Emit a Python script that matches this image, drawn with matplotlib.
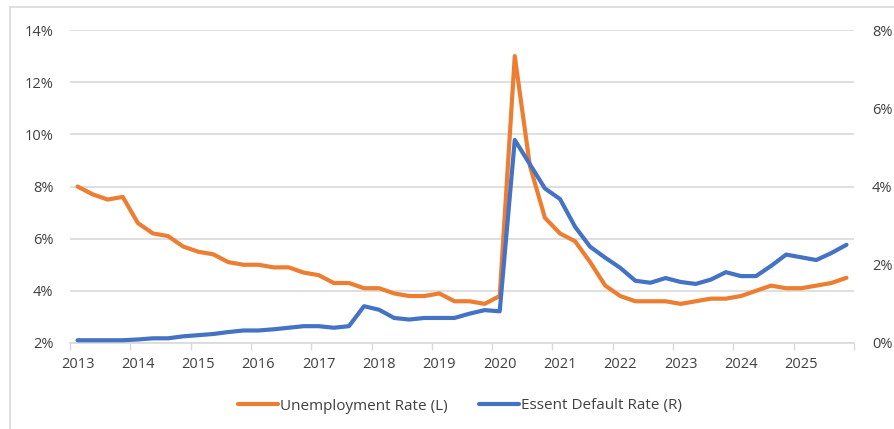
import matplotlib
matplotlib.use("Agg")
import matplotlib.pyplot as plt
from matplotlib.patches import Rectangle
import numpy as np

years = [str(y) for y in range(2013, 2026)]
unemployment = [8.0, 7.7, 7.5, 7.6, 6.6, 6.2, 6.1, 5.7, 5.5, 5.4, 5.1, 5.0,
                5.0, 4.9, 4.9, 4.7, 4.6, 4.3, 4.3, 4.1, 4.1, 3.9, 3.8, 3.8,
                3.9, 3.6, 3.6, 3.5, 3.8, 13.0, 8.8, 6.8, 6.2, 5.9, 5.1, 4.2,
                3.8, 3.6, 3.6, 3.6, 3.5, 3.6, 3.7, 3.7, 3.8, 4.0, 4.2, 4.1,
                4.1, 4.2, 4.3, 4.5]
default_rate = [0.07, 0.07, 0.07, 0.07, 0.09, 0.12, 0.12, 0.17, 0.20, 0.23, 0.28, 0.32,
                0.32, 0.35, 0.39, 0.43, 0.43, 0.39, 0.43, 0.94, 0.85, 0.64, 0.60, 0.64,
                0.64, 0.64, 0.75, 0.84, 0.81, 5.19, 4.57, 3.95, 3.68, 2.97, 2.46, 2.18,
                1.92, 1.59, 1.54, 1.66, 1.56, 1.51, 1.62, 1.81, 1.71, 1.71, 1.97, 2.26,
                2.19, 2.12, 2.30, 2.51]

text_color = "#404040"
plt.rcParams['font.family'] = ['Open Sans', 'DejaVu Sans']

fig = plt.figure(figsize=(8.95, 4.29), dpi=100)
# chart border
fig.patches.append(Rectangle((10/895, -0.05), 1.0, (429-7)/429 + 0.05,
                             transform=fig.transFigure, fill=False,
                             edgecolor="#d9d9d9", linewidth=1.2))

ax = fig.add_axes([70/895, 1-343/429, (854-70)/895, (343-30)/429])
ax2 = ax.twinx()

x = np.arange(len(unemployment))
l1, = ax.plot(x, unemployment, color="#ED7D31", lw=3.0, solid_joinstyle="round",
              solid_capstyle="round", label="Unemployment Rate (L)", zorder=3)
l2, = ax2.plot(x, default_rate, color="#4472C4", lw=3.0, solid_joinstyle="round",
               solid_capstyle="round", label="Essent Default Rate (R)", zorder=3)

ax.set_xlim(-0.5, len(x) - 0.5)
ax.set_ylim(2, 14)
ax2.set_ylim(0, 8)
ax.set_yticks(np.arange(2, 15, 2))
ax2.set_yticks(np.arange(0, 9, 2))
ax.set_yticklabels([f"{v}%" for v in range(2, 15, 2)])
ax2.set_yticklabels([f"{v}%" for v in range(0, 9, 2)])

ax.set_xticks(np.arange(0, len(x), 4))
ax.set_xticklabels(years)
ax.set_xticks(np.arange(-0.5, len(x), 4), minor=True)
ax.tick_params(axis='x', which='major', length=0, pad=10, labelsize=10.5, labelcolor=text_color)
ax.tick_params(axis='x', which='minor', length=5, width=1, color="#d9d9d9", direction='out')
ax.tick_params(axis='y', length=0, pad=12, labelsize=10.5, labelcolor=text_color)
ax2.tick_params(axis='y', length=0, pad=13, labelsize=10.5, labelcolor=text_color)

ax.grid(axis='y', color="#d9d9d9", lw=1.2)
ax.set_axisbelow(True)
for a in (ax, ax2):
    for s in ("top", "left", "right"):
        a.spines[s].set_visible(False)
ax2.spines["bottom"].set_visible(False)
ax.spines["bottom"].set_color("#d9d9d9")
ax.spines["bottom"].set_linewidth(1.2)

fig.legend(handles=[l1, l2], loc="center", bbox_to_anchor=(460/895, 1-406/429),
           ncol=2, frameon=False, fontsize=11, handlelength=2.6,
           handletextpad=0.12, columnspacing=2.1, labelcolor=text_color)

fig.savefig("out.png", dpi=100)
